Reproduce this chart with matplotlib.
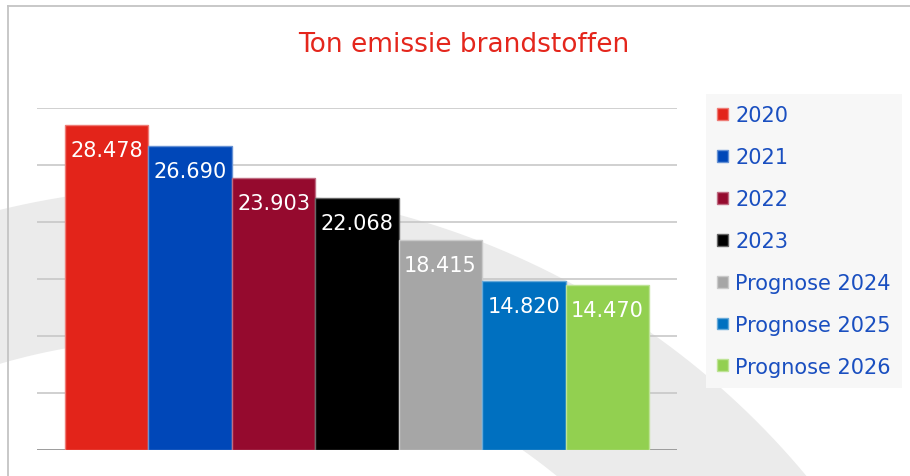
import numpy as np
import matplotlib
matplotlib.use("Agg")
import matplotlib.pyplot as plt
from matplotlib.patches import PathPatch, Rectangle
from matplotlib.path import Path
from matplotlib.lines import Line2D
from matplotlib.colors import to_rgb

# data
labels = ["2020", "2021", "2022", "2023", "Prognose 2024", "Prognose 2025", "Prognose 2026"]
values = [28478, 26690, 23903, 22068, 18415, 14820, 14470]
bar_colors = ["#e3241a", "#0047b8", "#950a2e", "#000000", "#a6a6a6", "#0070c0", "#92d050"]
value_text = ["28.478", "26.690", "23.903", "22.068", "18.415", "14.820", "14.470"]

W, H = 910, 477
fig = plt.figure(figsize=(W / 100, H / 100), dpi=100)
fig.patch.set_facecolor("white")


def lighter(c, f=0.4):
    r, g, b = to_rgb(c)
    return (r + (1 - r) * f, g + (1 - g) * f, b + (1 - b) * f)


# background swoosh (two eccentric circles, pixel coords with y down)
def circle_pts(cx, cy, r, reverse=False):
    t = np.linspace(0, 2 * np.pi, 400)
    if reverse:
        t = t[::-1]
    xs = (cx + r * np.cos(t)) / W
    ys = 1 - (cy + r * np.sin(t)) / H
    return np.column_stack([xs, ys])

outer = circle_pts(190, 990, 802)
inner = circle_pts(172, 949, 609, reverse=True)
verts = np.vstack([outer, inner])
codes = ([Path.MOVETO] + [Path.LINETO] * (len(outer) - 2) + [Path.CLOSEPOLY]) * 2
swoosh = PathPatch(Path(verts, codes), transform=fig.transFigure,
                   facecolor="#ebebeb", edgecolor="none", zorder=-5)
fig.patches.append(swoosh)

# frame lines at top and left
fig.add_artist(Line2D([7.5 / W, 1], [1 - 6.5 / H, 1 - 6.5 / H], transform=fig.transFigure,
                      color="#c4c4c4", lw=1.3))
fig.add_artist(Line2D([7.5 / W, 7.5 / W], [0, 1 - 6.5 / H], transform=fig.transFigure,
                      color="#c4c4c4", lw=1.3))

ax = fig.add_axes([37 / W, 1 - 451 / H, 640 / W, 342 / H])
ax.set_facecolor("none")
x = np.arange(len(values))
bars = ax.bar(x, values, width=1.0, color=bar_colors,
              edgecolor=[lighter(c) for c in bar_colors], linewidth=1.0, zorder=3)
ax.set_xlim(-0.836, len(values) - 1 + 0.836)
ax.set_ylim(0, 30000)
ax.set_yticks(np.arange(0, 30001, 5000))
ax.yaxis.grid(True, color="#c8c8c8", linewidth=1.2, zorder=1)
ax.set_axisbelow(True)
ax.tick_params(left=False, bottom=False, labelleft=False, labelbottom=False)
for s in ax.spines.values():
    s.set_visible(False)
ax.axhline(0, color="#999999", lw=1.3, zorder=2)

for i, b in enumerate(bars):
    ax.annotate(value_text[i], (b.get_x() + b.get_width() / 2, b.get_height()),
                xytext=(0, -18), textcoords="offset points", ha="center", va="center",
                color="white", fontsize=15, zorder=4)

fig.text(464 / W, 1 - 45 / H, "Ton emissie brandstoffen", ha="center", va="center",
         color="#e4261c", fontsize=19)

handles = [Rectangle((0, 0), 1, 1, facecolor=c, edgecolor=lighter(c), lw=1.0) for c in bar_colors]
leg = fig.legend(handles, labels, loc="upper left", bbox_to_anchor=(706 / W, 1 - 95 / H),
                 bbox_transform=fig.transFigure, borderaxespad=0, borderpad=0.55,
                 fontsize=15, labelspacing=1.05, handlelength=0.5, handleheight=0.5,
                 handletextpad=0.35, frameon=True, fancybox=False)
leg.get_frame().set_facecolor("#f7f7f7")
leg.get_frame().set_edgecolor("none")
leg.get_frame().set_alpha(1)
for t in leg.get_texts():
    t.set_color("#1a4fc0")

fig.savefig("out.png", dpi=100)
